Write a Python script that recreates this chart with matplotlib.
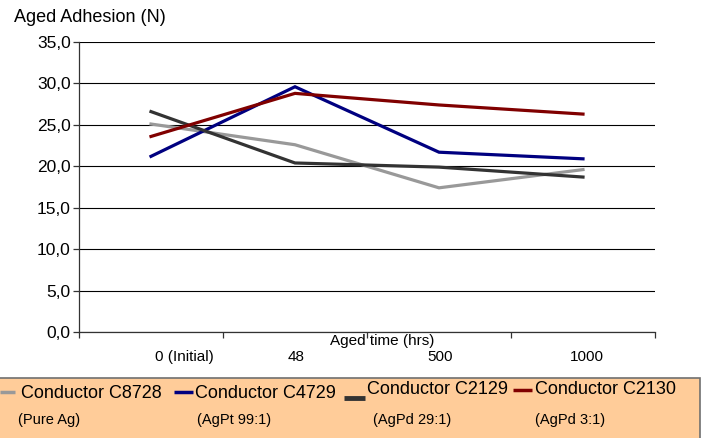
import matplotlib
matplotlib.use("Agg")
import matplotlib.pyplot as plt
from matplotlib.patches import Rectangle
from matplotlib.lines import Line2D

plt.rcParams["font.family"] = ["Liberation Sans", "DejaVu Sans"]

# -------------------------
# Data
# -------------------------
categories = ["0 (Initial)", "48", "500", "1000"]
series_names = ["Conductor C8728", "Conductor C4729", "Conductor C2129", "Conductor C2130"]
series_notes = ["(Pure Ag)", "(AgPt 99:1)", "(AgPd 29:1)", "(AgPd 3:1)"]
c8728 = [25.1, 22.6, 17.4, 19.6]
c4729 = [21.2, 29.6, 21.7, 20.9]
c2129 = [26.6, 20.4, 19.9, 18.7]
c2130 = [23.6, 28.8, 27.4, 26.3]
y_ticks = [0, 5, 10, 15, 20, 25, 30, 35]

colors = ["#999999", "#000080", "#333333", "#800000"]

W, H = 704, 438
fig = plt.figure(figsize=(W / 100, H / 100), dpi=100)
ax = fig.add_axes([79 / W, 1 - 332 / H, 576 / W, 290 / H])

x = list(range(len(categories)))
for vals, col in zip([c8728, c4729, c2129, c2130], colors):
    ax.plot(x, vals, color=col, lw=2.3, solid_joinstyle="miter", zorder=3)

# axes styling
ax.set_xlim(-0.5, len(categories) - 0.5)
ax.set_ylim(0, 35)
ax.set_yticks(y_ticks)
ax.set_yticklabels([f"{v:.1f}".replace(".", ",") for v in y_ticks], fontsize=12.5)
ax.yaxis.grid(True, color="#000000", lw=0.8)
ax.set_axisbelow(True)
for s in ["top", "right"]:
    ax.spines[s].set_visible(False)
for s in ["left", "bottom"]:
    ax.spines[s].set_color("#333333")
    ax.spines[s].set_linewidth(0.9)
ax.tick_params(axis="y", length=4, width=0.9, color="#333333", pad=2)

# tick marks at category boundaries, labels slightly off-centre as in original
ax.set_xticks([i - 0.5 for i in range(len(categories) + 1)])
ax.set_xticklabels([])
ax.tick_params(axis="x", which="major", length=4, width=0.9, color="#333333", direction="out")
label_pos = [0.23, 1.01, 2.01, 3.03]
ax.set_xticks(label_pos, minor=True)
ax.set_xticklabels(categories, minor=True, fontsize=11)
ax.tick_params(axis="x", which="minor", length=0, pad=13)

ax.set_xlabel("Aged time (hrs)", fontsize=11)
ax.xaxis.set_label_coords((382 - 79) / 576, -0.03)
ax.xaxis.label.set_va("center")

fig.text(14 / W, 1 - 17 / H, "Aged Adhesion (N)", fontsize=13, va="center", ha="left")

# -------------------------
# Legend box (drawn by hand to match the layout)
# -------------------------
fig.patches.append(Rectangle((-0.01, -0.01), 700 / W + 0.01, (438 - 378) / H + 0.01,
                             transform=fig.transFigure, facecolor="#FFCC99",
                             edgecolor="#707070", lw=1.2, zorder=0))
handle_x = [(0, 15), (174, 193), (344, 365), (513, 532)]
handle_y = [392, 392, 398, 390]
handle_w = [2.5, 2.5, 3.5, 2.5]
text_x = [21, 195, 367, 535]
text_y = [393, 393, 390, 390]
note_x = [18, 197, 373, 535]
for i, name in enumerate(series_names):
    x0, x1 = handle_x[i]
    fig.add_artist(Line2D([x0 / W, x1 / W], [1 - handle_y[i] / H] * 2,
                          transform=fig.transFigure, color=colors[i],
                          lw=handle_w[i], solid_capstyle="butt"))
    fig.text(text_x[i] / W, 1 - text_y[i] / H, name, fontsize=13, va="center", ha="left")
    fig.text(note_x[i] / W, 1 - 420 / H, series_notes[i], fontsize=10.5, va="center", ha="left")

fig.savefig("out.png", dpi=100)
